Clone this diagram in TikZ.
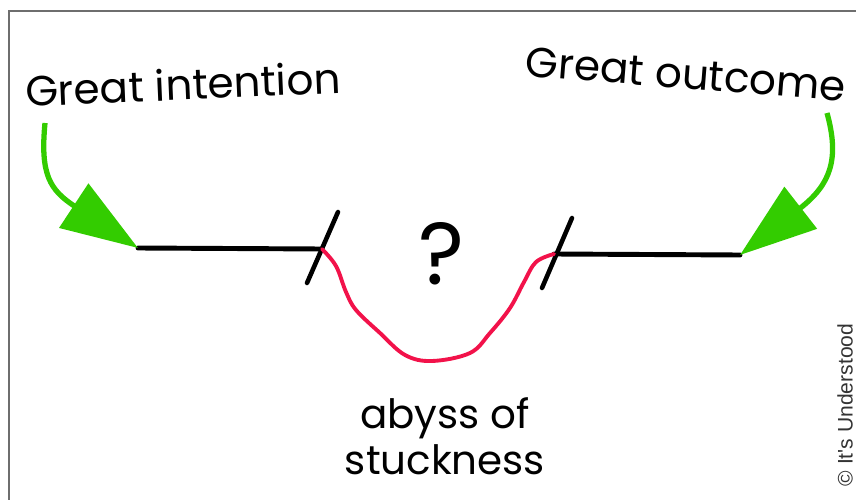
\documentclass[tikz,border=0pt]{standalone}
\usepackage{fontspec}
\setmainfont{Poppins}
\newfontfamily\creditfont{Liberation Sans}
\usepackage{tikz}
\usetikzlibrary{arrows.meta,calc}
\usepackage{xcolor}
\definecolor{arrowgreen}{HTML}{33CC00}
\definecolor{abyssred}{HTML}{F2124A}
\definecolor{framegray}{HTML}{6E6E6E}

\begin{document}
\begin{tikzpicture}[x=0.02cm,y=-0.02cm,every node/.style={font=\fontsize{24}{26}\selectfont},
  pointer/.style={-{Triangle[length=1.54cm,width=1.04cm]},line width=3pt,arrowgreen},
  road/.style={line width=2.8pt,line cap=round},
  cutmark/.style={line width=2.6pt,line cap=round}]
\useasboundingbox (0,0) rectangle (856,500);
\draw[framegray,line width=1.2pt] (9,500) -- (9,11) -- (856,11);
% texts
\node[rotate=2.5] (gi) at (183,84) {Great intention};
\node[rotate=-4.5] (go) at (686,74) {Great outcome};
\node[font=\fontsize{50}{50}\selectfont] (q) at (442,254) {?};
\node[align=center,font=\fontsize{23}{26}\selectfont] (ab) at (445,436) {abyss of\\stuckness};
\node[rotate=90,inner sep=0pt,font=\creditfont\fontsize{12}{13}\selectfont,text=black!80] (cr) at (845,405) {© It's Understood};
% the two roads
\coordinate (lstart) at (138,248);
\coordinate (lend) at (322,249);
\coordinate (rstart) at (554,254);
\coordinate (rend) at (740,255);
\draw[road] (lstart) -- (lend);
\draw[road] (rstart) -- (rend);
\draw[cutmark] (307,283) -- (338,212);
\draw[cutmark] (542,288) -- (572,218);
% abyss
\draw[abyssred,line width=2.2pt,line cap=round] plot[smooth,tension=0.6] coordinates {(lend) (336,266) (346,292) (356,310) (380,333) (405,355) (432,361) (470,353) (490,333) (510,308) (524,282) (536,262) (554,254)};
% green arrows
\coordinate (gistart) at (45,123);
\coordinate (gostart) at (827,113);
\draw[pointer] (gistart) .. controls (40,175) and (50,190) .. (lstart);
\draw[pointer] (gostart) .. controls (840,160) and (830,185) .. (rend);
\end{tikzpicture}
\end{document}
